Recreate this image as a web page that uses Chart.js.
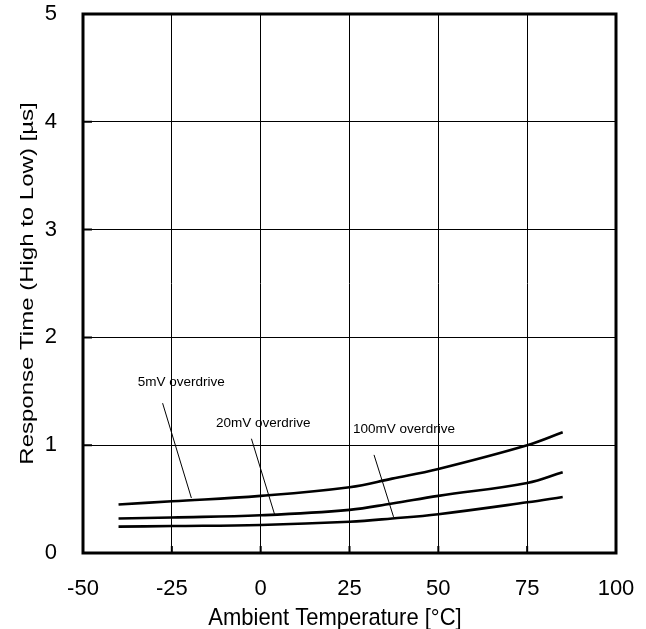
<!DOCTYPE html>
<html>
<head>
<meta charset="utf-8">
<script src="https://cdn.jsdelivr.net/npm/chart.js@4/dist/chart.umd.min.js"></script>
<style>
  html, body { margin: 0; padding: 0; background: #fff; }
  #wrap { width: 646px; height: 629px; }
</style>
</head>
<body>
<div id="wrap"><canvas id="respChart" width="646" height="629"></canvas></div>
<script>
// temperatures (°C)
const temps = [-40, -25, 0, 25, 37, 50, 75, 85];
const od5mV   = [0.45, 0.48, 0.53, 0.61, 0.69, 0.78, 1.00, 1.12];
const od20mV  = [0.32, 0.33, 0.35, 0.40, 0.46, 0.53, 0.65, 0.75];
const od100mV = [0.245, 0.25, 0.26, 0.29, 0.32, 0.36, 0.47, 0.52];

const xTicks = [-50, -25, 0, 25, 50, 75, 100];
const yTicks = [0, 1, 2, 3, 4, 5];

const xTitle = 'Ambient Temperature [°C]';
const yTitle = 'Response Time (High to Low) [µs]';

// curve labels with their leader lines (data coords)
const labelNames = ['5mV overdrive', '20mV overdrive', '100mV overdrive'];
const labelPos = [[-34.6, 1.58], [-12.6, 1.20], [26.0, 1.15]];
const leaderFrom = [[-27.6, 1.39], [-2.6, 1.06], [31.9, 0.91]];
const leaderTo = [[-19.5, 0.51], [3.9, 0.36], [37.4, 0.335]];

const FONT = '"Liberation Sans", Arial, sans-serif';
const curve = (vals) => temps.map((t, i) => ({ x: t, y: vals[i] }));

const datasets = [od5mV, od20mV, od100mV].map(v => ({
    data: curve(v),
    borderColor: '#000',
    borderWidth: 2.6,
    pointRadius: 0,
    tension: 0.4,
    fill: false
}));
leaderFrom.forEach((p, i) => {
    datasets.push({
        data: [{ x: p[0], y: p[1] }, { x: leaderTo[i][0], y: leaderTo[i][1] }],
        borderColor: '#000',
        borderWidth: 1,
        pointRadius: 0,
        fill: false
    });
});

const labelPlugin = {
    id: 'labels',
    afterDatasetsDraw(chart) {
        const { ctx, scales: { x, y } } = chart;
        ctx.save();
        ctx.font = '13.5px ' + FONT;
        ctx.fillStyle = '#000';
        ctx.textBaseline = 'middle';
        ctx.textAlign = 'left';
        labelNames.forEach((t, i) => {
            ctx.fillText(t, x.getPixelForValue(labelPos[i][0]), y.getPixelForValue(labelPos[i][1]));
        });
        ctx.restore();
    }
};

// frame, inward tick marks + axis titles (titles drawn by hand so the glyphs can be stretched like the scan)
const framePlugin = {
    id: 'frame',
    afterDraw(chart) {
        const { ctx, chartArea: a, scales: { x, y } } = chart;
        ctx.save();
        ctx.strokeStyle = '#000';
        ctx.lineWidth = 3;
        ctx.strokeRect(a.left, a.top, a.right - a.left, a.bottom - a.top);

        ctx.lineWidth = 2;
        ctx.beginPath();
        xTicks.slice(1, -1).forEach(v => {
            const px = x.getPixelForValue(v);
            ctx.moveTo(px, a.bottom);
            ctx.lineTo(px, a.bottom - 7);
        });
        yTicks.slice(1, -1).forEach(v => {
            const py = y.getPixelForValue(v);
            ctx.moveTo(a.left, py);
            ctx.lineTo(a.left + 9, py);
        });
        ctx.stroke();

        ctx.fillStyle = '#000';
        ctx.textAlign = 'center';
        ctx.textBaseline = 'alphabetic';

        ctx.save();
        ctx.translate(335, 625);
        ctx.scale(1, 1.12);
        ctx.font = '22px ' + FONT;
        ctx.fillText(xTitle, 0, 0);
        ctx.restore();

        ctx.save();
        ctx.translate(33, (a.top + a.bottom) / 2);
        ctx.rotate(-Math.PI / 2);
        ctx.scale(1, 0.8);
        ctx.font = '24px ' + FONT;
        ctx.fillText(yTitle, 0, 0);
        ctx.restore();

        ctx.restore();
    }
};

const noPad = s => { s.paddingLeft = 0; s.paddingRight = 0; s.paddingTop = 0; s.paddingBottom = 0; };

new Chart(document.getElementById('respChart').getContext('2d'), {
    type: 'line',
    data: { datasets: datasets },
    options: {
        responsive: false,
        animation: false,
        layout: { autoPadding: false, padding: { top: 14, right: 30, left: 0, bottom: 0 } },
        plugins: { legend: { display: false }, tooltip: { enabled: false } },
        scales: {
            x: {
                type: 'linear',
                min: -50, max: 100,
                afterBuildTicks: s => { s.ticks = xTicks.map(v => ({ value: v })); },
                afterFit: s => { s.height = 76; noPad(s); },
                grid: { color: '#000', lineWidth: 1, drawTicks: false },
                border: { display: false },
                ticks: { color: '#000', padding: 23, font: { size: 22, family: FONT } }
            },
            y: {
                min: 0, max: 5,
                afterBuildTicks: s => { s.ticks = yTicks.map(v => ({ value: v })); },
                afterFit: s => { s.width = 83; noPad(s); },
                grid: { color: '#000', lineWidth: 1, drawTicks: false },
                border: { display: false },
                ticks: { color: '#000', padding: 26, font: { size: 22, family: FONT } }
            }
        }
    },
    plugins: [labelPlugin, framePlugin]
});
</script>
</body>
</html>
